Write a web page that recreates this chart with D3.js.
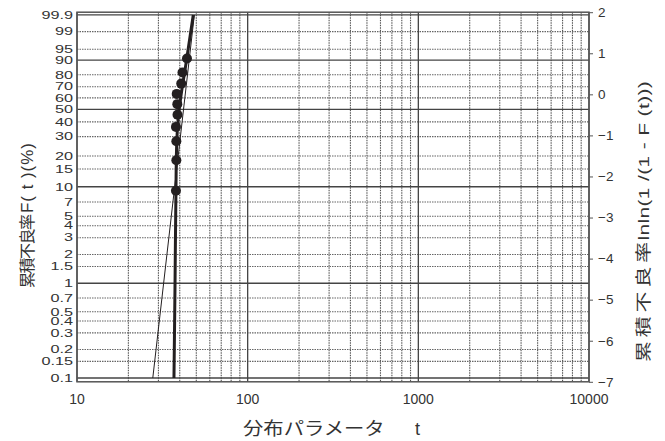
<!DOCTYPE html>
<html>
<head>
<meta charset="utf-8">
<script src="https://cdn.jsdelivr.net/npm/d3@7"></script>
<style>
  body { margin: 0; background: #fff; }
  svg { display: block; }
</style>
</head>
<body>
<div id="chart"></div>
<script>
// Weibull plot data
const pctTicks = [0.1, 0.15, 0.2, 0.3, 0.4, 0.5, 0.7, 1, 1.5, 2, 3, 4, 5, 7, 10, 15, 20, 30, 40, 50, 60, 70, 80, 90, 95, 99, 99.9];
const pctMajor = [0.1, 1, 10, 50, 90, 99.9];
const lnlnTicks = [2, 1, 0, -1, -2, -3, -4, -5, -6, -7];
const xTicks = [10, 100, 1000, 10000];

// observed points: F(%) (mean rank) and t
const pointF = [9.1, 18.2, 27.3, 36.4, 45.5, 54.5, 63.6, 72.7, 81.8, 90.9];
const pointT = [38.0, 38.2, 38.2, 38.0, 38.8, 38.7, 38.4, 40.8, 41.5, 44.1];

// thin fitted line (straight on Weibull paper): end points
const fitF = [0.1, 99.9];
const fitT = [27.8, 48.7];

// thick curve (3-parameter fit)
const curveF = [0.1, 0.85, 9.1, 22.7, 41.5, 91, 99.9];
const curveT = [37.0, 37.5, 38.0, 38.3, 39.1, 44.0, 48.0];

var width = 665, height = 441;
var pLeft = 77, pRight = 589, pTop = 12.2, pBottom = 381.8;

var svg = d3.select("#chart").append("svg")
    .attr("width", width)
    .attr("height", height);

var x = d3.scaleLog().domain([10, 10000]).range([pLeft, pRight]);
var yv = d3.scaleLinear().domain([-7, 2]).range([pBottom, pTop]);
var lnln = function(p) { return Math.log(-Math.log(1 - p / 100)); };
var y = function(p) { return yv(lnln(p)); };

var numFont = "'Liberation Sans', Arial, sans-serif";
var jpFont = "'Noto Sans CJK JP', sans-serif";

// vertical grid lines
var xGrid = [];
for (let d = 10; d < 10000; d *= 10) {
    for (let k = 2; k <= 9; k++) xGrid.push(d * k);
}

svg.append("g").selectAll("line")
    .data(xGrid)
    .join("line")
    .attr("x1", function(d) { return x(d); })
    .attr("x2", function(d) { return x(d); })
    .attr("y1", pTop).attr("y2", pBottom)
    .attr("stroke", "#555")
    .attr("stroke-width", 1.1)
    .attr("stroke-dasharray", "1.5,1");

// horizontal grid lines
svg.append("g").selectAll("line")
    .data(pctTicks.filter(function(v) { return pctMajor.indexOf(v) < 0; }))
    .join("line")
    .attr("x1", pLeft).attr("x2", pRight)
    .attr("y1", function(d) { return y(d); })
    .attr("y2", function(d) { return y(d); })
    .attr("stroke", "#666")
    .attr("stroke-width", 1.1)
    .attr("stroke-dasharray", "1.5,1");

svg.append("g").selectAll("line")
    .data(pctMajor)
    .join("line")
    .attr("x1", pLeft).attr("x2", pRight)
    .attr("y1", function(d) { return y(d); })
    .attr("y2", function(d) { return y(d); })
    .attr("stroke", "#444")
    .attr("stroke-width", 1.3);

svg.append("g").selectAll("line")
    .data(xTicks)
    .join("line")
    .attr("x1", function(d) { return x(d); })
    .attr("x2", function(d) { return x(d); })
    .attr("y1", pTop).attr("y2", pBottom)
    .attr("stroke", "#444")
    .attr("stroke-width", 1.3);

// frame
svg.append("rect")
    .attr("x", pLeft).attr("y", pTop)
    .attr("width", pRight - pLeft).attr("height", pBottom - pTop)
    .attr("fill", "none")
    .attr("stroke", "#555")
    .attr("stroke-width", 1.5);

// left tick labels (percent), wide and flat as in the original
svg.append("g").selectAll("text")
    .data(pctTicks)
    .join("text")
    .attr("transform", function(d) { return "translate(" + (pLeft - 4) + "," + y(d) + ") scale(1.25,0.8)"; })
    .attr("dy", "0.36em")
    .attr("text-anchor", "end")
    .style("font", "13px " + numFont)
    .style("fill", "#333")
    .text(function(d) { return d; });

// right axis (lnln)
var rightAxis = svg.append("g")
    .attr("transform", "translate(" + pRight + ",0)")
    .call(d3.axisRight(yv).tickValues(lnlnTicks).tickSize(4).tickPadding(5)
        .tickFormat(function(d) { return d < 0 ? "\u2212" + (-d) : d; }));
rightAxis.select(".domain").remove();
rightAxis.selectAll("line").attr("stroke", "#555");
rightAxis.selectAll("text")
    .style("font", "13.5px " + numFont)
    .style("fill", "#333");

// bottom tick labels
svg.append("g").selectAll("text")
    .data(xTicks)
    .join("text")
    .attr("x", function(d) { return x(d); })
    .attr("y", 404)
    .attr("text-anchor", "middle")
    .style("font", "14px " + numFont)
    .style("fill", "#333")
    .text(function(d) { return d; });

// thin fitted line
var fitData = fitF.map(function(f, i) { return [fitT[i], f]; });
svg.append("path")
    .datum(fitData)
    .attr("fill", "none")
    .attr("stroke", "#231f20")
    .attr("stroke-width", 1)
    .attr("d", d3.line()
        .x(function(d) { return x(d[0]); })
        .y(function(d) { return y(d[1]); }));

// thick curve
var curveData = curveF.map(function(f, i) { return [curveT[i], f]; });
svg.append("path")
    .datum(curveData)
    .attr("fill", "none")
    .attr("stroke", "#231f20")
    .attr("stroke-width", 3)
    .attr("d", d3.line()
        .curve(d3.curveMonotoneY)
        .x(function(d) { return x(d[0]); })
        .y(function(d) { return y(d[1]); }));

// points
svg.append("g").selectAll("circle")
    .data(pointF)
    .join("circle")
    .attr("cx", function(d, i) { return x(pointT[i]); })
    .attr("cy", function(d) { return y(d); })
    .attr("r", 5)
    .attr("fill", "#231f20");

// axis titles (rotated ones read bottom to top)
function rotTitle(cx, startY, stretch, kanji, kSize, kLen, latin, lSize, lStart, lLen) {
    var g = svg.append("g")
        .attr("transform", "translate(" + cx + "," + startY + ") rotate(-90) scale(" + stretch + ",1)");
    g.append("text")
        .attr("x", 0)
        .attr("textLength", kLen)
        .attr("lengthAdjust", "spacing")
        .style("font", kSize + "px " + jpFont)
        .style("fill", "#333")
        .text(kanji);
    g.append("text")
        .attr("x", lStart)
        .attr("textLength", lLen)
        .attr("lengthAdjust", "spacing")
        .style("font", lSize + "px " + numFont)
        .style("fill", "#333")
        .text(latin);
}

rotTitle(33, 288, 1, "累積不良率", 16, 74, "F( t )(%)", 17, 75, 70);
rotTitle(649, 362, 1.35, "累積不良率", 15.5, 89, "lnln(1 /(1 - F (t)))", 15.5, 90, 118);

svg.append("text")
    .attr("transform", "translate(243,435) scale(1.13,1)")
    .style("font", "18px " + jpFont)
    .style("fill", "#333")
    .text("分布パラメータ");

svg.append("text")
    .attr("x", 415)
    .attr("y", 435)
    .style("font", "18px " + numFont)
    .style("fill", "#333")
    .text("t");
</script>
</body>
</html>
